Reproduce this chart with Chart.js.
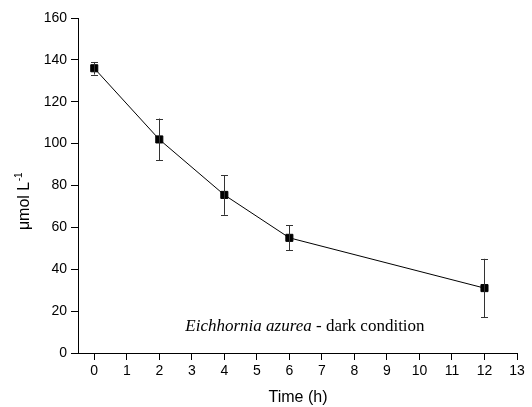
<!DOCTYPE html>
<html><head><meta charset="utf-8">
<script src="https://cdn.jsdelivr.net/npm/chart.js@4/dist/chart.umd.min.js"></script>
<style>html,body{margin:0;padding:0;background:#fff}#wrap{width:532px;height:407px}</style>
</head><body><div id="wrap"><canvas id="c" width="532" height="407"></canvas></div>
<script>
const times = [0, 2, 4, 6, 12];
const values = [136, 102, 75.5, 55, 31];
const errLow = [133, 92, 66, 49, 17];
const errHigh = [139, 112, 85, 61, 45];
const xTicks = [0,1,2,3,4,5,6,7,8,9,10,11,12,13];
const yTicks = [0,20,40,60,80,100,120,140,160];
const annotationItalic = 'Eichhornia azurea';
const annotationRest = ' - dark condition';
const yTitleMain = 'μmol L';
const yTitleSup = '-1';
const xTitle = 'Time (h)';

const SANS = '"Liberation Sans", Arial, sans-serif';
const SERIF = '"Liberation Serif", "Times New Roman", serif';

const extras = {
  id: 'extras',
  afterDatasetsDraw(chart) {
    const ctx = chart.ctx, xs = chart.scales.x, ys = chart.scales.y;
    ctx.save();
    ctx.strokeStyle = '#333'; ctx.lineWidth = 1;
    for (let i = 0; i < times.length; i++) {
      const x = Math.round(xs.getPixelForValue(times[i])) + 0.5;
      const y1 = ys.getPixelForValue(errLow[i]), y2 = ys.getPixelForValue(errHigh[i]);
      ctx.beginPath();
      ctx.moveTo(x, y1); ctx.lineTo(x, y2);
      ctx.moveTo(x - 3.5, Math.round(y1) + 0.5); ctx.lineTo(x + 3.5, Math.round(y1) + 0.5);
      ctx.moveTo(x - 3.5, Math.round(y2) + 0.5); ctx.lineTo(x + 3.5, Math.round(y2) + 0.5);
      ctx.stroke();
    }
    const ca = chart.chartArea;
    ctx.fillStyle = '#000';
    ctx.textBaseline = 'alphabetic';
    ctx.textAlign = 'left';
    // annotation
    ctx.font = 'italic 17px ' + SERIF;
    const w1 = ctx.measureText(annotationItalic).width;
    ctx.font = '17px ' + SERIF;
    const w2 = ctx.measureText(annotationRest).width;
    const cx = ca.left + (ca.right - ca.left) * 0.517;
    const sx = cx - (w1 + w2) / 2;
    const by = ca.bottom - 22;
    ctx.font = 'italic 17px ' + SERIF;
    ctx.fillText(annotationItalic, sx, by);
    ctx.font = '17px ' + SERIF;
    ctx.fillText(annotationRest, sx + w1, by);
    // x title
    ctx.font = '16px ' + SANS;
    ctx.textAlign = 'center';
    ctx.fillText(xTitle, (ca.left + ca.right) / 2 + 0.5, 401.5);
    // y title
    ctx.textAlign = 'left';
    ctx.translate(29, (ca.top + ca.bottom) / 2 + 16);
    ctx.rotate(-Math.PI / 2);
    ctx.font = '16px ' + SANS;
    const m = ctx.measureText(yTitleMain).width;
    ctx.font = '10px ' + SANS;
    const s = ctx.measureText(yTitleSup).width;
    const start = -(m + s) / 2;
    ctx.font = '16px ' + SANS;
    ctx.fillText(yTitleMain, start, 0);
    ctx.font = '10px ' + SANS;
    ctx.fillText(yTitleSup, start + m + 0.5, -7);
    ctx.restore();
  }
};

new Chart(document.getElementById('c'), {
  type: 'scatter',
  data: {
    datasets: [{
      data: times.map((t, i) => ({x: t, y: values[i]})),
      showLine: true,
      borderColor: '#000',
      backgroundColor: '#000',
      borderWidth: 1,
      pointStyle: 'rect',
      pointRadius: 5,
      pointHoverRadius: 5,
      tension: 0
    }]
  },
  options: {
    responsive: false,
    animation: false,
    layout: {padding: {top: 18, right: 15, left: 0, bottom: 0}},
    plugins: {legend: {display: false}, tooltip: {enabled: false}},
    scales: {
      x: {
        type: 'linear', min: -0.5, max: 13,
        afterBuildTicks: sc => { sc.ticks = xTicks.map(v => ({value: v})); },
        ticks: {color: '#000', font: {family: SANS, size: 14}, padding: 3, maxRotation: 0, autoSkip: false},
        grid: {display: true, drawOnChartArea: false, drawTicks: true, tickLength: 7, color: '#000'},
        border: {display: true, color: '#000', width: 1},
        afterFit: sc => { sc.height = 54; }
      },
      y: {
        type: 'linear', min: 0, max: 160,
        afterBuildTicks: sc => { sc.ticks = yTicks.map(v => ({value: v})); },
        ticks: {color: '#000', font: {family: SANS, size: 14}, padding: 4, autoSkip: false},
        grid: {display: true, drawOnChartArea: false, drawTicks: true, tickLength: 7, color: '#000'},
        border: {display: true, color: '#000', width: 1},
        afterFit: sc => { sc.width = 78; }
      }
    }
  },
  plugins: [extras]
});
</script>
</body></html>
